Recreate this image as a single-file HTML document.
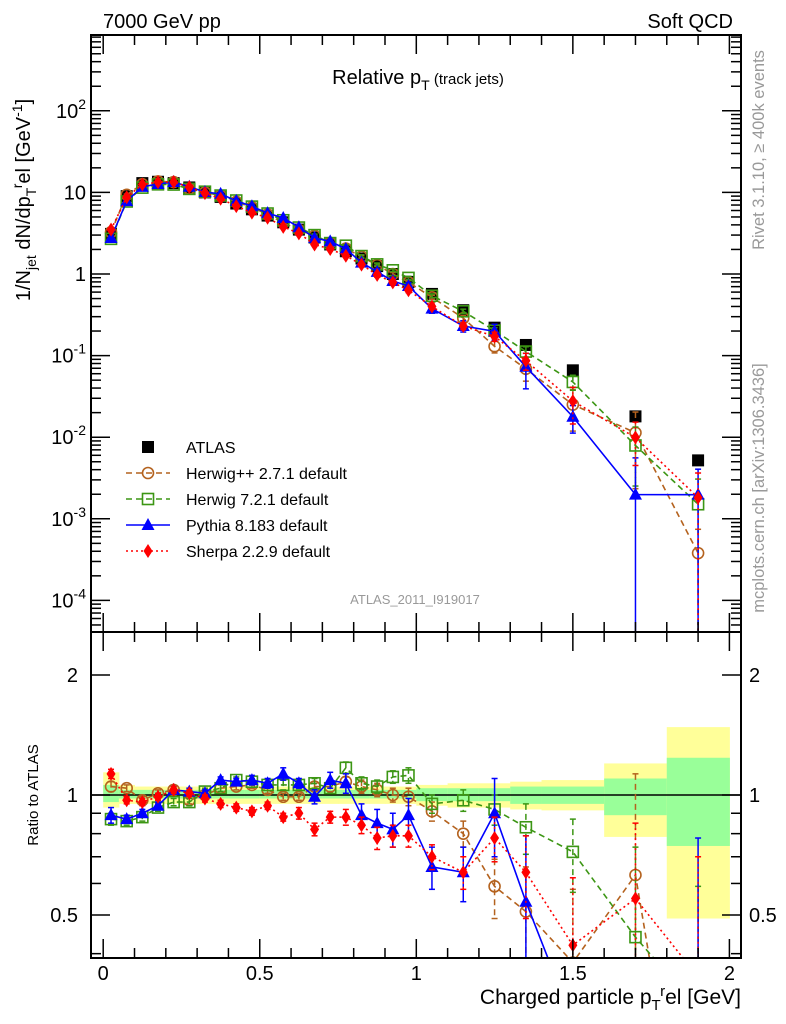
<!DOCTYPE html>
<html><head><meta charset="utf-8"><style>
html,body{margin:0;padding:0;background:#fff;width:786px;height:1024px;overflow:hidden}
svg{display:block;font-family:"Liberation Sans",sans-serif}
</style></head><body>
<svg id="c" width="786" height="1024" viewBox="0 0 786 1024" xmlns="http://www.w3.org/2000/svg" overflow="hidden">
<defs>
<clipPath id="ct"><rect x="91" y="35" width="650" height="597"/></clipPath>
<clipPath id="cr"><rect x="91" y="632" width="650" height="326"/></clipPath>
</defs>
<rect x="0" y="0" width="786" height="1024" fill="#fff"/>
<g id="bands" clip-path="url(#cr)"></g>
<g id="topMarks" clip-path="url(#ct)"></g>
<g id="ratMarks" clip-path="url(#cr)"></g>
<rect x="91" y="35" width="650" height="597" fill="none" stroke="#000" stroke-width="2"/>
<rect x="91" y="632" width="650" height="326" fill="none" stroke="#000" stroke-width="2"/>
<g id="axes"></g>
<text x="103" y="28" font-size="20">7000 GeV pp</text>
<text x="733" y="28" font-size="20" text-anchor="end">Soft QCD</text>
<text x="418" y="84" font-size="20" text-anchor="middle">Relative p<tspan font-size="14" dy="6">T</tspan><tspan font-size="15" dy="-6"> (track jets)</tspan></text>
<text x="415" y="604" font-size="13" fill="#999" text-anchor="middle">ATLAS_2011_I919017</text>
<text transform="translate(764,150) rotate(-90)" font-size="16.5" fill="#999" text-anchor="middle">Rivet 3.1.10, ≥ 400k events</text>
<text transform="translate(764,488) rotate(-90)" font-size="16.5" fill="#999" text-anchor="middle">mcplots.cern.ch [arXiv:1306.3436]</text>
<text transform="translate(30,200) rotate(-90)" font-size="20" text-anchor="middle">1/N<tspan font-size="14" dy="6">jet</tspan><tspan dy="-6"> dN/dp</tspan><tspan font-size="14" dy="6">T</tspan><tspan font-size="14" dy="-14">r</tspan><tspan dy="8">el [GeV</tspan><tspan font-size="14" dy="-8">-1</tspan><tspan dy="8">]</tspan></text>
<text transform="translate(38,795) rotate(-90)" font-size="15" text-anchor="middle">Ratio to ATLAS</text>
<text x="741" y="1004" font-size="21" text-anchor="end">Charged particle p<tspan font-size="15" dy="6">T</tspan><tspan font-size="15" dy="-14">r</tspan><tspan dy="8">el [GeV]</tspan></text>
<g id="legend"></g>
</svg>
<script>
const xs=[0.025,0.075,0.125,0.175,0.225,0.275,0.325,0.375,0.425,0.475,0.525,0.575,0.625,0.675,0.725,0.775,0.825,0.875,0.925,0.975,1.05,1.15,1.25,1.35,1.5,1.7,1.9];
const edges=[0,0.05,0.1,0.15,0.2,0.25,0.3,0.35,0.4,0.45,0.5,0.55,0.6,0.65,0.7,0.75,0.8,0.85,0.9,0.95,1.0,1.1,1.2,1.3,1.4,1.6,1.8,2.0];
const atlas=[3.1,9.0,13.0,13.5,13.0,11.5,10.0,8.8,7.3,6.2,5.2,4.3,3.5,2.8,2.3,1.9,1.55,1.25,1.0,0.8,0.57,0.36,0.22,0.135,0.066,0.018,0.0052];
const yelUp=[1.14,1.06,1.05,1.05,1.05,1.05,1.05,1.05,1.05,1.05,1.05,1.05,1.05,1.05,1.05,1.05,1.05,1.05,1.05,1.05,1.06,1.07,1.07,1.08,1.09,1.20,1.48];
const yelDn=[0.93,0.95,0.95,0.95,0.95,0.95,0.95,0.95,0.95,0.95,0.95,0.95,0.95,0.95,0.95,0.95,0.95,0.95,0.95,0.95,0.94,0.93,0.93,0.92,0.915,0.785,0.49];
const grnUp=[1.06,1.03,1.03,1.03,1.03,1.03,1.03,1.03,1.03,1.03,1.03,1.03,1.03,1.03,1.03,1.03,1.03,1.03,1.03,1.03,1.04,1.04,1.04,1.05,1.05,1.10,1.24];
const grnDn=[0.96,0.98,0.98,0.98,0.98,0.98,0.98,0.98,0.98,0.98,0.98,0.98,0.98,0.98,0.98,0.98,0.98,0.98,0.98,0.98,0.965,0.965,0.965,0.95,0.95,0.89,0.745];
const hppRatio=[1.05,1.04,0.97,1.01,1.03,0.97,1.0,1.04,1.05,1.06,1.03,0.99,0.99,1.05,1.05,1.08,1.05,1.03,1.0,0.99,0.91,0.80,0.59,0.51,0.38,0.63,0.073];
const hppErr=[0.03,0.02,0.02,0.02,0.02,0.02,0.02,0.02,0.02,0.02,0.02,0.02,0.02,0.02,0.03,0.03,0.04,0.04,0.04,0.05,0.05,0.06,0.1,0.15,0.2,0.5,0.07];
const h7Ratio=[0.87,0.86,0.88,0.93,0.96,0.96,1.02,1.04,1.09,1.08,1.06,1.06,1.06,1.07,1.04,1.17,1.07,1.05,1.11,1.12,0.95,0.97,0.92,0.83,0.72,0.44,0.29];
const h7Err=[0.03,0.02,0.02,0.02,0.02,0.02,0.02,0.02,0.02,0.02,0.02,0.03,0.03,0.03,0.03,0.04,0.04,0.04,0.04,0.05,0.05,0.06,0.08,0.12,0.15,0.3,0.3];
const pyRatio=[0.89,0.87,0.90,0.94,1.03,1.02,1.01,1.09,1.08,1.09,1.07,1.13,1.07,0.99,1.09,1.07,0.89,0.85,0.82,0.89,0.66,0.64,0.90,0.54,0.27,0.11,0.38];
const pyErr=[0.04,0.02,0.02,0.02,0.02,0.02,0.02,0.02,0.02,0.03,0.03,0.04,0.03,0.04,0.05,0.06,0.06,0.07,0.08,0.09,0.08,0.1,0.2,0.25,0.1,0.2,0.4];
const shRatio=[1.13,0.97,0.96,0.99,1.03,1.01,0.98,0.95,0.93,0.91,0.94,0.88,0.90,0.82,0.88,0.88,0.84,0.78,0.79,0.79,0.70,0.64,0.78,0.64,0.42,0.55,0.35];
const shErr=[0.03,0.02,0.02,0.02,0.02,0.02,0.02,0.02,0.02,0.02,0.02,0.02,0.03,0.03,0.03,0.04,0.04,0.05,0.05,0.05,0.05,0.06,0.1,0.15,0.2,0.3,0.35];
const topTicks=[2,1,0,-1,-2,-3,-4];
const ratioTicks=[2,1,0.5];
const xTickLabels=[0,0.5,1,1.5,2];

const NS='http://www.w3.org/2000/svg';
const X=v=>103.2+313.1*v;
const YT=v=>274-81.6*Math.log10(v);
const YR=r=>795-398.7*Math.log10(r);
function mk(parent,tag,attrs){const e=document.createElementNS(NS,tag);for(const k in attrs)e.setAttribute(k,attrs[k]);parent.appendChild(e);return e;}
const $=id=>document.getElementById(id);

const bands=$('bands');
for(let i=0;i<xs.length;i++){
  const x0=X(edges[i]),x1=X(edges[i+1]);
  const y=mk(bands,'rect',{x:x0,y:YR(yelUp[i]),width:x1-x0+0.5,height:YR(yelDn[i])-YR(yelUp[i]),fill:'#ffff99'});
  
  
  const g=mk(bands,'rect',{x:x0,y:YR(grnUp[i]),width:x1-x0+0.5,height:YR(grnDn[i])-YR(grnUp[i]),fill:'#99ff99'});
  
  
}
mk(bands,'line',{x1:91,x2:741,y1:YR(1),y2:YR(1),stroke:'#000','stroke-width':1.5});

const ax=$('axes');
function tick(x1,y1,x2,y2){mk(ax,'line',{x1,y1,x2,y2,stroke:'#000','stroke-width':1.5});}
for(let d=-5;d<=3;d++){for(let m=1;m<10;m++){const v=m*Math.pow(10,d);const y=YT(v);if(y<36||y>631)continue;const L=m===1?18:9;tick(92,y,92+L,y);tick(740,y,740-L,y);}}
topTicks.forEach(p=>{const y=YT(Math.pow(10,p));
  const t=mk(ax,'text',{x:86,y:y+7,'font-size':20,'text-anchor':'end'});
  
  
  if(p===1)t.textContent='10';else if(p===0)t.textContent='1';else{t.textContent='10';const s=mk(t,'tspan',{'font-size':14,dy:-9});s.textContent=String(p);}
});
[0.4,0.5,0.6,0.7,0.8,0.9,1,2].forEach(v=>{const y=YR(v);const L=(v===1||v===2||v===0.5)?18:9;tick(92,y,92+L,y);tick(740,y,740-L,y);});
ratioTicks.forEach(v=>{const y=YR(v);
  const t=mk(ax,'text',{x:78,y:y+7,'font-size':20,'text-anchor':'end'});t.textContent=String(v);
  
  
  const t2=mk(ax,'text',{x:749,y:y+7,'font-size':20});t2.textContent=String(v);
  
  
});
for(let k=0;k<=20;k++){const v=k/10;const x=X(v);const L=k%5===0?18:9;
  tick(x,957,x,957-L);tick(x,633,x,633+L);tick(x,631,x,631-L);tick(x,36,x,36+L);}
xTickLabels.forEach(v=>{const t=mk(ax,'text',{x:X(v),y:980,'font-size':20,'text-anchor':'middle'});t.textContent=String(v);
  
  });

function marker(g,type,x,y,color){
  if(type==='sq')return mk(g,'rect',{x:x-6,y:y-6,width:12,height:12,fill:'#000'});
  if(type==='circ')return mk(g,'circle',{cx:x,cy:y,r:5.5,fill:'none',stroke:color,'stroke-width':1.6});
  if(type==='osq')return mk(g,'rect',{x:x-5.5,y:y-5.5,width:11,height:11,fill:'none',stroke:color,'stroke-width':1.6});
  if(type==='tri')return mk(g,'polygon',{points:`${x},${y-7} ${x-6.5},${y+5} ${x+6.5},${y+5}`,fill:color});
  if(type==='dia')return mk(g,'polygon',{points:`${x},${y-7} ${x-4.5},${y} ${x},${y+7} ${x+4.5},${y}`,fill:color});
}
const series=[
  {name:'herwigpp',r:hppRatio,e:hppErr,color:'#b4621e',type:'circ',dash:'6,4'},
  {name:'herwig7',r:h7Ratio,e:h7Err,color:'#3c9614',type:'osq',dash:'6,4'},
  {name:'pythia',r:pyRatio,e:pyErr,color:'#0000ff',type:'tri',dash:''},
  {name:'sherpa',r:shRatio,e:shErr,color:'#ff0000',type:'dia',dash:'2,3'}
];
function drawSeries(gid,yf,isRatio){
  const root=$(gid);
  series.forEach(s=>{
    const g=mk(root,'g',{});
    
    
    const vals=xs.map((x,i)=>isRatio?s.r[i]:s.r[i]*atlas[i]);
    const errs=xs.map((x,i)=>isRatio?s.e[i]:s.e[i]*atlas[i]);
    mk(g,'polyline',{points:xs.map((x,i)=>`${X(x)},${yf(vals[i])}`).join(' '),fill:'none',stroke:s.color,'stroke-width':1.6,'stroke-dasharray':s.dash});
    xs.forEach((x,i)=>{
      const lo=vals[i]-errs[i],hi=vals[i]+errs[i];
      const yl=lo>0?Math.min(yf(lo),1000):1000,yh=yf(hi);
      mk(g,'line',{x1:X(x),x2:X(x),y1:yh,y2:yl,stroke:s.color,'stroke-width':1.5,'stroke-dasharray':s.dash});
      mk(g,'line',{x1:X(x)-3,x2:X(x)+3,y1:yh,y2:yh,stroke:s.color,'stroke-width':1.5});
      if(lo>0)mk(g,'line',{x1:X(x)-3,x2:X(x)+3,y1:yl,y2:yl,stroke:s.color,'stroke-width':1.5});
      const m=marker(g,s.type,X(x),yf(vals[i]),s.color);
      
      
    });
  });
}
(function(){const g=mk($('topMarks'),'g',{});
  
  
  xs.forEach((x,i)=>{const m=marker(g,'sq',X(x),YT(atlas[i]),'#000');
    
    });})();
drawSeries('topMarks',YT,false);
drawSeries('ratMarks',YR,true);

const lg=$('legend');
const entries=[['ATLAS','sq','#000',''],['Herwig++ 2.7.1 default','circ','#b4621e','6,4'],['Herwig 7.2.1 default','osq','#3c9614','6,4'],['Pythia 8.183 default','tri','#0000ff',''],['Sherpa 2.2.9 default','dia','#ff0000','2,3']];
entries.forEach((e,i)=>{
  const y=447+i*26;
  const g=mk(lg,'g',{});
  
  
  if(i>0)mk(g,'line',{x1:126,x2:170,y1:y,y2:y,stroke:e[2],'stroke-width':1.6,'stroke-dasharray':e[3]});
  marker(g,e[1],148,y,e[2]);
  const t=mk(g,'text',{x:186,y:y+6,'font-size':16});t.textContent=e[0];
});
</script>
</body></html>
